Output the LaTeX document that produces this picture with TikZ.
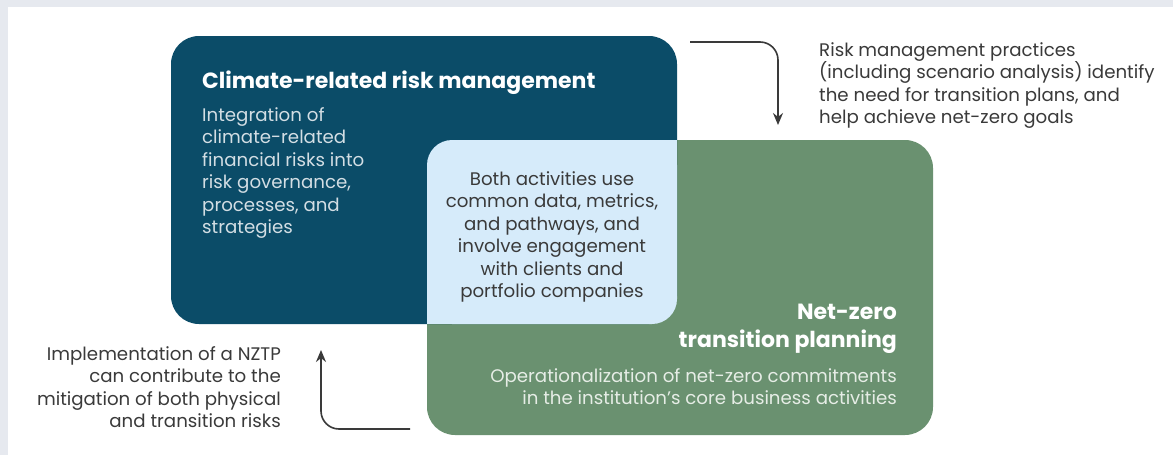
\documentclass[tikz,border=0pt]{standalone}
\usepackage{fontspec}
\setmainfont{Poppins}
\usetikzlibrary{arrows.meta}
\definecolor{cbg}{HTML}{E6E9EF}
\definecolor{cblue}{HTML}{0B4C68}
\definecolor{cgreen}{HTML}{6A9170}
\definecolor{clight}{HTML}{D6EBFA}
\definecolor{ctext}{HTML}{3A3A3A}
\definecolor{cbluetext}{HTML}{D3DEE4}
\definecolor{cgreentext}{HTML}{E6EDE6}
\tikzset{
  body/.style={inner sep=0pt, font=\fontsize{18.2}{22.5}\selectfont},
  title/.style={inner sep=0pt, font=\fontsize{22}{28.5}\selectfont\bfseries, text=white},
  flowarrow/.style={draw=ctext, line width=1.6pt, rounded corners=18pt, -{Stealth[length=12pt,width=10pt]}}
}
\begin{document}
\begin{tikzpicture}[x=1pt,y=-1pt]
\useasboundingbox (0,0) rectangle (1173,455);
\fill[cbg] (0,0) rectangle (1173,455);
\fill[white] (8,7) rectangle (1173,455);
% boxes
\fill[cgreen, rounded corners=28pt] (427,140) rectangle (933,435);
\fill[cblue, rounded corners=28pt] (171,36) rectangle (677,324);
\fill[cgreen] (552,232) rectangle (677,324);
\fill[clight, rounded corners=25pt] (427,140) rectangle (677,324);
\fill[clight] (640,140) rectangle (677,177);
\fill[clight] (427,287) rectangle (464,324);
% texts (base anchor = last line baseline)
\node[title, anchor=base west] (risktitle) at (202,88) {Climate-related risk management};
\node[body, anchor=base west, align=left, text=cbluetext] (riskbody) at (202,233.5)
  {Integration of\\climate-related\\financial risks into\\risk governance,\\processes, and\\strategies};
\node[body, anchor=base, align=center, text=ctext] (common) at (552,297.5)
  {Both activities use\\common data, metrics,\\and pathways, and\\involve engagement\\with clients and\\portfolio companies};
\node[title, anchor=base east, align=right] (nztitle) at (897,347.5) {Net-zero\\transition planning};
\node[body, anchor=base east, align=right, text=cgreentext] (nzbody) at (897,404.5)
  {Operationalization of net-zero commitments\\in the institution's core business activities};
\node[body, anchor=base west, align=left, text=ctext] (toptext) at (819,123.5)
  {Risk management practices\\(including scenario analysis) identify\\the need for transition plans, and\\help achieve net-zero goals};
\node[body, anchor=base east, align=right, text=ctext] (bottext) at (281,427.5)
  {Implementation of a NZTP\\can contribute to the\\mitigation of both physical\\and transition risks};
% arrows
\coordinate (a1s) at (690,42);
\coordinate (a1e) at (778,125);
\coordinate (a2s) at (410,429);
\coordinate (a2e) at (321,350);
\draw[flowarrow] (a1s) -| (a1e);
\draw[flowarrow] (a2s) -| (a2e);
\end{tikzpicture}
\end{document}
